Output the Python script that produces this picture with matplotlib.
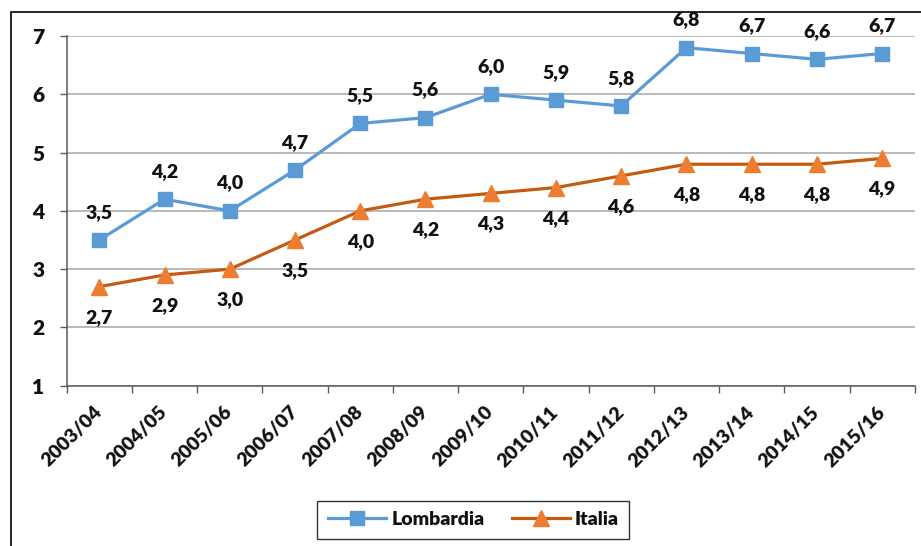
import matplotlib
matplotlib.use("Agg")
import matplotlib.pyplot as plt
from matplotlib.patches import Rectangle

plt.rcParams['font.family'] = ['Lato', 'DejaVu Sans']
plt.rcParams['font.weight'] = 'bold'

seasons = ["2003/04", "2004/05", "2005/06", "2006/07", "2007/08", "2008/09",
           "2009/10", "2010/11", "2011/12", "2012/13", "2013/14", "2014/15", "2015/16"]
lombardia = [3.5, 4.2, 4.0, 4.7, 5.5, 5.6, 6.0, 5.9, 5.8, 6.8, 6.7, 6.6, 6.7]
italia = [2.7, 2.9, 3.0, 3.5, 4.0, 4.2, 4.3, 4.4, 4.6, 4.8, 4.8, 4.8, 4.9]
y_ticks = [1, 2, 3, 4, 5, 6, 7]

blue = "#5B9BD5"
orange_line = "#C55A11"
orange_marker = "#ED7D31"
text_color = "#111111"

fig = plt.figure(figsize=(9.21, 5.46), dpi=100)
ax = fig.add_axes([0.0724, 0.2936, 0.9208, 0.6404])

# outer chart frame
fig.patches.append(Rectangle((11 / 921, -0.05), 1.2, 1 - 11.5 / 546 + 0.05,
                             transform=fig.transFigure, fill=False,
                             edgecolor="black", linewidth=1.2, zorder=0))

x = list(range(len(seasons)))
ax.plot(x, lombardia, color=blue, linewidth=2.3, marker="s", markersize=10,
        markerfacecolor=blue, markeredgecolor=blue, label="Lombardia", zorder=3)
ax.plot(x, italia, color=orange_line, linewidth=2.3, marker="^", markersize=11,
        markerfacecolor=orange_marker, markeredgecolor=orange_marker,
        label="Italia", zorder=3)

def fmt(v):
    return f"{v:.1f}".replace(".", ",")

for xi, v in zip(x, lombardia):
    ax.annotate(fmt(v), (xi, v), xytext=(0, 20), textcoords="offset points",
                ha="center", va="center", fontsize=14, fontweight="heavy",
                color=text_color)
for xi, v in zip(x, italia):
    ax.annotate(fmt(v), (xi, v), xytext=(0, -22), textcoords="offset points",
                ha="center", va="center", fontsize=14, fontweight="heavy",
                color=text_color)

ax.set_xlim(-0.5, len(seasons) - 0.5)
ax.set_ylim(1, 7)
ax.set_yticks(y_ticks)
ax.set_yticklabels([str(t) for t in y_ticks], fontsize=15, fontweight="heavy",
                   color=text_color)
ax.yaxis.grid(True, color="#A6A6A6", linewidth=1.1)
ax.set_axisbelow(True)

# ticks between categories, labels at category centres
ax.set_xticks([i - 0.5 for i in range(len(seasons) + 1)])
ax.set_xticklabels([])
ax.set_xticks(x, minor=True)
ax.set_xticklabels(seasons, minor=True, rotation=45, ha="right", va="center",
                   rotation_mode="anchor", fontsize=14, fontweight="heavy",
                   color=text_color)
ax.tick_params(axis="x", which="major", length=5, width=1, color="#595959",
               direction="out")
ax.tick_params(axis="x", which="minor", length=0, pad=17)
ax.tick_params(axis="y", length=5, width=1, color="#595959", pad=11)

for s in ["top", "right"]:
    ax.spines[s].set_visible(False)
for s in ["left", "bottom"]:
    ax.spines[s].set_color("#595959")
    ax.spines[s].set_linewidth(1.1)

leg = fig.legend(loc="center", bbox_to_anchor=(0.514, 0.048), ncol=2,
                 fontsize=14, frameon=True, fancybox=False, handlelength=3,
                 columnspacing=1.4, borderpad=0.55, handletextpad=0.25,
                 borderaxespad=0.3)
leg.get_frame().set_edgecolor("black")
leg.get_frame().set_linewidth(1.0)
for t in leg.get_texts():
    t.set_fontweight("heavy")
    t.set_color(text_color)

fig.savefig("out.png", dpi=100)
